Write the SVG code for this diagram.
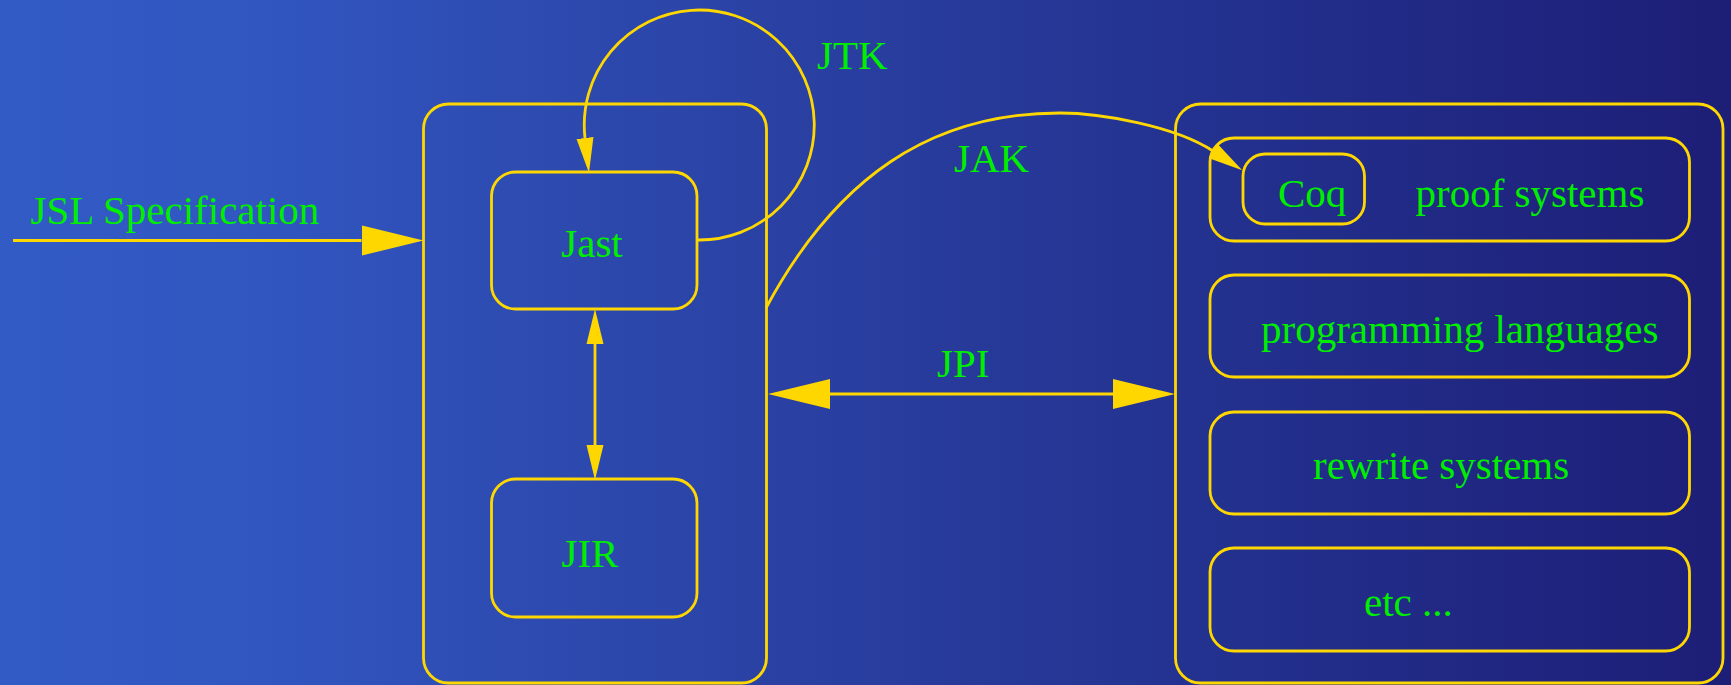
<svg xmlns="http://www.w3.org/2000/svg" width="1731" height="685" viewBox="0 0 1731 685">
<style>
.box{fill:none;stroke:#ffd700;stroke-width:2.8}
.edge{fill:none;stroke:#ffd700;stroke-width:2.8}
.thick{stroke-width:3.2}
.lbl{font-family:"Liberation Serif","Times New Roman",serif;font-size:41px;fill:#00ee00}
.mid{text-anchor:middle}
</style>
<defs>
<linearGradient id="bg" x1="0" y1="0" x2="1" y2="0">
<stop offset="0" stop-color="#325bc6"/>
<stop offset="0.15" stop-color="#3156c0"/>
<stop offset="0.45" stop-color="#2a41a3"/>
<stop offset="0.7" stop-color="#23318f"/>
<stop offset="1" stop-color="#1d1e76"/>
</linearGradient>
<marker id="big" markerUnits="userSpaceOnUse" markerWidth="64" markerHeight="32" viewBox="0 -16 64 32" refX="0" refY="0" orient="auto-start-reverse">
<path d="M0,-15 L62,0 L0,15 z" fill="#ffd700"/>
</marker>
<marker id="small" markerUnits="userSpaceOnUse" markerWidth="38" markerHeight="20" viewBox="0 -10 38 20" refX="0" refY="0" orient="auto-start-reverse">
<path d="M0,-8.5 L35,0 L0,8.5 z" fill="#ffd700"/>
</marker>
</defs>
<rect x="0" y="0" width="1731" height="685" fill="url(#bg)"/>

<g id="node-left">
<rect class="box" x="423.5" y="104" width="343" height="579" rx="25"/>
</g>
<g id="node-jast">
<rect class="box" x="491.5" y="172" width="205.5" height="137" rx="24"/>
<text class="lbl mid" x="592" y="257">Jast</text>
</g>
<g id="node-jir">
<rect class="box" x="491.5" y="479" width="205.5" height="138" rx="24"/>
<text class="lbl mid" x="590" y="567">JIR</text>
</g>
<g id="node-right">
<rect class="box" x="1175.5" y="104" width="547.5" height="579" rx="25"/>
</g>
<g id="node-proof">
<rect class="box" x="1210" y="138" width="479.5" height="103" rx="24"/>
<text class="lbl" x="1415.5" y="207">proof systems</text>
</g>
<g id="node-coq">
<rect class="box" x="1243" y="154" width="121.5" height="70" rx="22"/>
<text class="lbl" x="1278" y="207">Coq</text>
</g>
<g id="node-prog">
<rect class="box" x="1210" y="275" width="479.5" height="102" rx="24"/>
<text class="lbl" x="1261" y="343">programming languages</text>
</g>
<g id="node-rewrite">
<rect class="box" x="1210" y="412" width="479.5" height="102" rx="24"/>
<text class="lbl" x="1313" y="479">rewrite systems</text>
</g>
<g id="node-etc">
<rect class="box" x="1210" y="548" width="479.5" height="103" rx="24"/>
<text class="lbl" x="1364" y="616">etc ...</text>
</g>

<g id="connectors">
<path class="edge thick" d="M13,240.5 L361.5,240.5" marker-end="url(#big)"/>
<text class="lbl" x="30.5" y="224">JSL Specification</text>
<path class="edge" d="M697,240 A115,115 0 1,0 585,138" marker-end="url(#small)"/>
<text class="lbl" x="817" y="69">JTK</text>
<path class="edge" d="M595,344 L595,445" marker-start="url(#small)" marker-end="url(#small)"/>
<path class="edge" d="M766,308 C836,178 930,113 1060,113 C1100,113 1175,126 1213,151" marker-end="url(#small)"/>
<text class="lbl" x="954" y="172">JAK</text>
<path class="edge thick" d="M830,394 L1113,394" marker-start="url(#big)" marker-end="url(#big)"/>
<text class="lbl" x="937" y="377">JPI</text>
</g>
</svg>
